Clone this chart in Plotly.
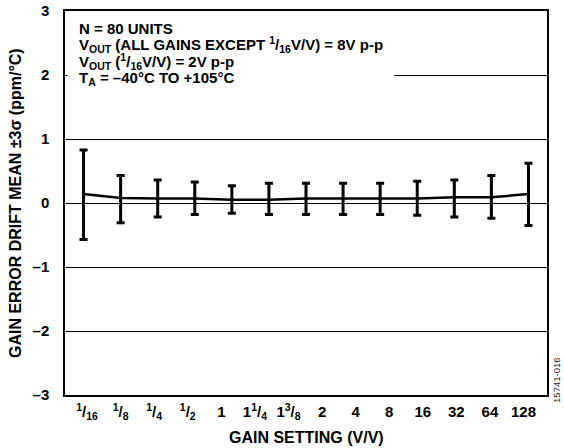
import plotly.graph_objects as go

# ---- data ----
point_index = list(range(13))
mean_drift = [0.14, 0.08, 0.07, 0.07, 0.05, 0.05, 0.07, 0.07, 0.07, 0.07, 0.09, 0.09, 0.14]
upper_3sigma = [0.83, 0.43, 0.36, 0.33, 0.27, 0.31, 0.31, 0.31, 0.31, 0.34, 0.36, 0.43, 0.62]
lower_3sigma = [-0.57, -0.31, -0.22, -0.18, -0.16, -0.18, -0.18, -0.18, -0.18, -0.19, -0.22, -0.24, -0.35]

gain_labels = [
    "<sup>1</sup>/<sub>16</sub>", "<sup>1</sup>/<sub>8</sub>", "<sup>1</sup>/<sub>4</sub>",
    "<sup>1</sup>/<sub>2</sub>", "1", "1<sup>1</sup>/<sub>4</sub>", "1<sup>3</sup>/<sub>8</sub>",
    "2", "4", "8", "16", "32", "64", "128",
]
y_ticks = [-3, -2, -1, 0, 1, 2, 3]
y_ticktext = ["\u20133", "\u20132", "\u20131", "0", "1", "2", "3"]

notes = [
    "N = 80 UNITS",
    "V<sub>OUT</sub> (ALL GAINS EXCEPT <sup>1</sup>/<sub>16</sub>V/V) = 8V p-p",
    "V<sub>OUT</sub> (<sup>1</sup>/<sub>16</sub>V/V) = 2V p-p",
    "T<sub>A</sub> = \u201340\u00b0C TO +105\u00b0C",
]
note_y = [2.72, 2.48, 2.21, 1.95]

x_title = "GAIN SETTING (V/V)"
y_title = "GAIN ERROR DRIFT MEAN \u00b13\u03c3 (ppm/\u00b0C)"
figure_id = "15741-016"

FONT = "Liberation Sans, Arial, sans-serif"

err_plus = [u - m for u, m in zip(upper_3sigma, mean_drift)]
err_minus = [m - l for m, l in zip(mean_drift, lower_3sigma)]

fig = go.Figure()
fig.add_trace(go.Scatter(
    x=point_index, y=mean_drift, mode="lines",
    line=dict(color="black", width=2.5),
    error_y=dict(type="data", symmetric=False, array=err_plus, arrayminus=err_minus,
                 color="black", thickness=3, width=4),
    showlegend=False, hoverinfo="skip",
))
# invisible trace to activate the tick-label axis
fig.add_trace(go.Scatter(x=[0], y=[0], xaxis="x2", mode="markers",
                         marker=dict(opacity=0), showlegend=False, hoverinfo="skip"))

# white box behind the notes (hides part of the y=2 gridline)
fig.add_shape(type="rect", xref="x", yref="y", x0=-0.43, x1=8.38, y0=1.55, y1=2.98,
              fillcolor="white", line=dict(width=0), layer="between")

for txt, yv in zip(notes, note_y):
    fig.add_annotation(x=0.025, xref="paper", y=yv, yref="y", text=txt, showarrow=False,
                       xanchor="left", yanchor="middle", align="left",
                       font=dict(family=FONT, size=15, color="black", weight="bold"))

# axis titles
fig.add_annotation(x=0.5, xref="paper", y=0, yref="paper", yshift=-42, text=x_title,
                   showarrow=False, xanchor="center", yanchor="middle",
                   font=dict(family=FONT, size=16, color="black", weight="bold"))
fig.add_annotation(x=0, xref="paper", xshift=-50, y=0.5, yref="paper", text=y_title,
                   textangle=-90, showarrow=False, xanchor="center", yanchor="middle",
                   font=dict(family=FONT, size=16, color="black", weight="bold"))

fig.add_annotation(x=1.0, xref="paper", xshift=10, y=-2.78, yref="y", text=figure_id,
                   showarrow=False, textangle=-90, xanchor="center", yanchor="middle",
                   font=dict(family=FONT, size=9.5, color="#222222"))

fig.update_layout(
    width=564, height=448,
    margin=dict(l=65, r=17, t=11, b=53, autoexpand=False),
    paper_bgcolor="white", plot_bgcolor="white",
    font=dict(family=FONT, size=15, color="black"),
    xaxis=dict(range=[-0.5, 12.5], showticklabels=False, showgrid=False, zeroline=False,
               showline=True, linecolor="black", linewidth=1.5, mirror=True, ticks="",
               automargin=False),
    xaxis2=dict(overlaying="x", side="bottom", range=[-0.656, 13.70],
                tickvals=list(range(len(gain_labels))), ticktext=gain_labels,
                showgrid=False, zeroline=False, showline=False, ticks="", automargin=False,
                tickfont=dict(family=FONT, size=15, weight="bold"), ticklabelstandoff=6),
    yaxis=dict(range=[-3, 3], tickvals=y_ticks, ticktext=y_ticktext,
               showgrid=True, gridcolor="black", gridwidth=1, zeroline=False,
               showline=True, linecolor="black", linewidth=1.5, mirror=True, ticks="",
               automargin=False,
               tickfont=dict(family=FONT, size=15, weight="bold"), ticklabelstandoff=11),
)

fig.write_html("out.html", config={"displayModeBar": False},
               post_script="document.body.style.margin='0';")
